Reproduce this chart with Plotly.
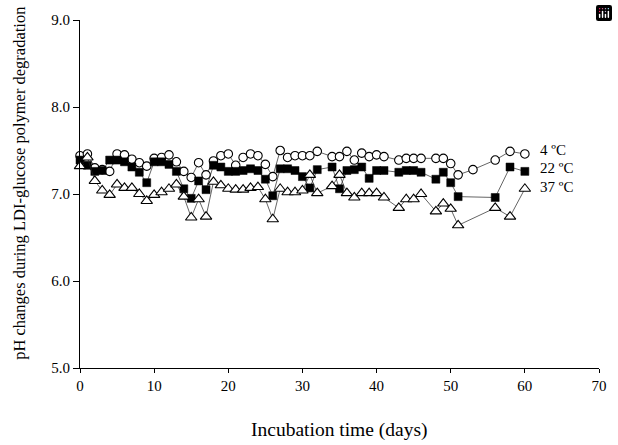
import plotly.graph_objects as go

days_4 = [0, 1, 2, 3, 4, 5, 6, 7, 8, 9, 10, 11, 12, 13, 14, 15, 16, 17, 18, 19, 20, 21, 22, 23, 24, 25, 26,
          27, 28, 29, 30, 31, 32, 34, 35, 36, 37, 38, 39, 40, 41, 43, 44, 45, 46, 48, 49, 50, 51, 53, 56, 58, 60]
ph_4 = [7.44, 7.46, 7.30, 7.28, 7.26, 7.46, 7.45, 7.40, 7.36, 7.32, 7.41, 7.42, 7.45, 7.37, 7.26, 7.19, 7.36,
        7.22, 7.38, 7.44, 7.46, 7.33, 7.42, 7.46, 7.44, 7.34, 7.20, 7.50, 7.42, 7.44, 7.44, 7.44, 7.49, 7.43,
        7.43, 7.49, 7.39, 7.47, 7.43, 7.45, 7.43, 7.39, 7.41, 7.41, 7.41, 7.41, 7.41, 7.35, 7.22, 7.28, 7.39,
        7.49, 7.46]

days_22 = [0, 1, 2, 3, 4, 5, 6, 7, 8, 9, 10, 11, 12, 13, 14, 15, 16, 17, 18, 19, 20, 21, 22, 23, 24, 25, 26,
           27, 28, 29, 30, 31, 32, 34, 35, 36, 37, 38, 39, 40, 41, 43, 44, 45, 46, 48, 49, 50, 51, 56, 58, 60]
ph_22 = [7.39, 7.33, 7.26, 7.27, 7.39, 7.39, 7.37, 7.31, 7.25, 7.13, 7.37, 7.37, 7.34, 7.26, 7.06, 6.95, 7.15,
         7.05, 7.33, 7.31, 7.26, 7.26, 7.27, 7.29, 7.27, 7.17, 6.98, 7.29, 7.29, 7.27, 7.20, 7.07, 7.28, 7.31,
         7.06, 7.27, 7.28, 7.31, 7.18, 7.27, 7.27, 7.25, 7.27, 7.27, 7.25, 7.17, 7.25, 7.13, 6.97, 6.96, 7.31,
         7.26]

days_37 = [0, 1, 2, 3, 4, 5, 6, 7, 8, 9, 10, 11, 12, 13, 14, 15, 16, 17, 18, 19, 20, 21, 22, 23, 24, 25, 26,
           27, 28, 29, 30, 31, 32, 34, 35, 36, 37, 38, 39, 40, 41, 43, 44, 45, 46, 48, 49, 50, 51, 56, 58, 60]
ph_37 = [7.32, 7.42, 7.15, 7.04, 6.99, 7.11, 7.07, 7.07, 7.00, 6.92, 6.99, 7.02, 7.06, 7.11, 6.97, 6.73, 6.94,
         6.74, 7.14, 7.10, 7.06, 7.05, 7.05, 7.07, 7.08, 6.94, 6.71, 7.06, 7.02, 7.02, 7.04, 7.22, 7.01, 7.09,
         7.22, 7.01, 6.96, 7.01, 7.01, 7.01, 6.96, 6.84, 6.94, 6.94, 7.00, 6.80, 6.89, 6.83, 6.64, 6.84, 6.74,
         7.06]

series_labels = ["4 ºC", "22 ºC", "37 ºC"]
label_y = [7.51, 7.30, 7.08]
x_ticks = [0, 10, 20, 30, 40, 50, 60, 70]
y_ticks = [5.0, 6.0, 7.0, 8.0, 9.0]

FONT = "Liberation Serif, Times New Roman, serif"
line_style = dict(color="#222222", width=0.7)

fig = go.Figure()
fig.add_trace(go.Scatter(
    x=days_4, y=ph_4, mode="lines+markers", line=line_style, cliponaxis=False,
    marker=dict(symbol="circle", size=8.5, color="white", line=dict(color="black", width=1.1)),
    showlegend=False))
fig.add_trace(go.Scatter(
    x=days_22, y=ph_22, mode="lines+markers", line=line_style, cliponaxis=False,
    marker=dict(symbol="square", size=8, color="black", line=dict(color="black", width=0.5)),
    showlegend=False))
fig.add_trace(go.Scatter(
    x=days_37, y=ph_37, mode="lines+markers", line=line_style, cliponaxis=False,
    marker=dict(symbol="triangle-up", size=10, color="white", line=dict(color="black", width=1.1)),
    showlegend=False))

for lab, ly in zip(series_labels, label_y):
    fig.add_annotation(x=61.8, y=ly, text=lab, showarrow=False, xanchor="left", yanchor="middle",
                       font=dict(family=FONT, size=15, color="black"))

fig.add_annotation(text="Incubation time (days)", xref="paper", yref="paper", x=0.5, y=-0.141,
                   xanchor="center", yanchor="top", showarrow=False,
                   font=dict(family=FONT, size=19.5, color="black"))
fig.add_annotation(text="pH changes during LDI-glucose polymer degradation", xref="paper", yref="paper",
                   x=-0.117, y=0.53, xanchor="center", yanchor="middle", textangle=-90, showarrow=False,
                   font=dict(family=FONT, size=16.5, color="black"))

fig.update_layout(
    width=618, height=445,
    margin=dict(l=80, r=19, t=20, b=77),
    paper_bgcolor="white", plot_bgcolor="white",
    font=dict(family=FONT, size=15, color="black"),
    modebar=dict(bgcolor="rgba(0,0,0,0)", color="rgba(0,0,0,0)", activecolor="rgba(0,0,0,0)"),
)
fig.update_xaxes(range=[0, 70], tickvals=x_ticks, ticktext=[str(v) for v in x_ticks],
                 showline=True, linecolor="black", linewidth=1, ticks="outside", ticklen=4,
                 tickcolor="black", showgrid=False, zeroline=False)
fig.update_yaxes(range=[5, 9], tickvals=y_ticks, ticktext=[f"{v:.1f}" for v in y_ticks],
                 showline=True, linecolor="black", linewidth=1.2, ticks="outside", ticklen=6,
                 tickcolor="black", tickwidth=1, showgrid=False, zeroline=False)

fig.write_html("out.html", post_script="document.body.style.margin='0';document.body.style.overflow='hidden';")
